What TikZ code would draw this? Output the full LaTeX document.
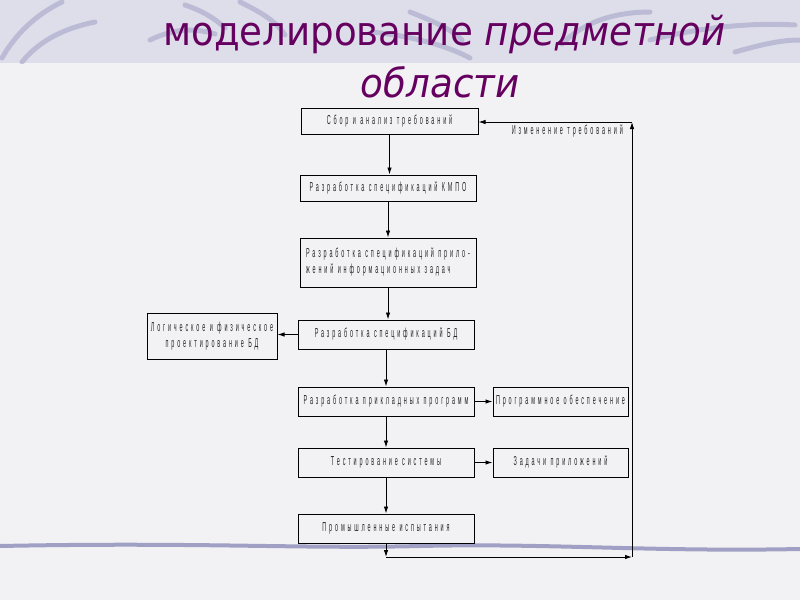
\documentclass[tikz,border=0pt]{standalone}
\usepackage{fontspec}
\setmainfont{DejaVu Sans}
\newfontfamily\titlefont[FakeStretch=0.93]{DejaVu Sans}
\newfontfamily\boxfont[FakeStretch=0.42,LetterSpace=22]{Liberation Sans}
\usetikzlibrary{shapes}
\usetikzlibrary{positioning}
\usetikzlibrary{arrows.meta}
\definecolor{titlepurple}{RGB}{102,0,96}
\definecolor{bandlilac}{RGB}{222,222,234}
\definecolor{paper}{RGB}{242,242,244}
\definecolor{swoosh}{RGB}{160,160,196}
\tikzset{
    mybox/.style = {rectangle, draw=black, line width=1pt, inner sep=0pt, minimum width=176pt, minimum height=29pt, align=center, font=\boxfont\fontsize{13}{16}\selectfont, text=black!85},
    myboxs/.style = {mybox, minimum width=135pt},
    edgen/.style = {-{Latex[length=7pt,width=4.5pt]}, line width=0.9pt},
    swooshline/.style = {swoosh, line width=5pt, line cap=round, opacity=0.55}, % decoration
    mytitle/.style = {text=titlepurple, font=\titlefont\fontsize{40}{48}\selectfont, inner sep=0pt}
}

\begin{document}
\begin{tikzpicture}[x=1pt, y=-1pt]
  \useasboundingbox (0,0) rectangle (800,600);

  % background of the slide
  \fill[paper] (0,0) rectangle (800,600);
  \fill[bandlilac] (0,0) rectangle (800,63);
  \begin{scope}
    \clip (0,0) rectangle (800,63);
    \draw[swooshline] (2,58) .. controls (15,35) and (35,15) .. (62,2);
    \draw[swooshline] (22,62) .. controls (40,40) and (65,28) .. (95,22);
    \draw[swooshline] (150,40) .. controls (175,28) and (195,28) .. (215,34);
    \draw[swooshline] (185,5) .. controls (200,10) and (215,18) .. (225,28);
    \draw[swooshline] (240,2) .. controls (260,12) and (275,20) .. (285,35);
    \draw[swooshline] (372,32) .. controls (400,35) and (440,42) .. (470,58);
    \draw[swooshline] (410,12) .. controls (430,20) and (450,28) .. (462,40);
    \draw[swooshline] (562,44) .. controls (580,25) and (610,12) .. (650,12);
    \draw[swooshline] (650,40) .. controls (690,30) and (740,22) .. (795,25);
    \draw[swooshline] (735,52) .. controls (760,45) and (780,40) .. (800,40);
  \end{scope}
  \draw[swoosh, line width=4pt] (0,546) .. controls (200,542) and (300,549) .. (420,546) .. controls (550,543) and (650,552) .. (800,549);

  % title
  \node[mytitle, anchor=base west] (title1) at (163,45) {моделирование \textit{предметной}};
  \node[mytitle, anchor=base] (title2) at (440,97) {\textit{области}};

  % main column
  \node[mybox, minimum width=177pt, minimum height=26pt] (m1) at (389.5,121) {Сбор и анализ требований};
  \node[mybox, minimum height=26pt] (m2) at (388,188) {Разработка спецификаций КМПО};
  \node[mybox, minimum height=49pt, align=left] (m3) at (388,262.5) {Разработка спецификаций прило-\\жений информационных задач};
  \node[mybox] (m4) at (386,334.5) {Разработка спецификаций БД};
  \node[mybox] (m5) at (386,401.5) {Разработка прикладных программ};
  \node[mybox] (m6) at (386,462.5) {Тестирование системы};
  \node[mybox] (m7) at (386,528.5) {Промышленные испытания};

  % side boxes
  \node[mybox, minimum width=130pt, minimum height=46pt] (logic) at (212,336) {Логическое и физическое\\проектирование БД};
  \node[myboxs] (soft) at (560.5,401.5) {Программное обеспечение};
  \node[myboxs] (tasks) at (560.5,462.5) {Задачи приложений};

  % flow
  \draw[edgen] (m1.south) -- (m1.south |- m2.north);
  \draw[edgen] (m2.south) -- (m2.south |- m3.north);
  \draw[edgen] (m3.south) -- (m3.south |- m4.north);
  \draw[edgen] (m4.south) -- (m4.south |- m5.north);
  \draw[edgen] (m5.south) -- (m6.north);
  \draw[edgen] (m6.south) -- (m7.north);
  \draw[edgen] (m4.west) -- (logic.east |- m4.west);
  \draw[edgen] (m5.east) -- (soft.west);
  \draw[edgen] (m6.east) -- (tasks.west);

  % feedback loop
  \coordinate (fb1) at (386,557);
  \coordinate (fb2) at (632,557);
  \coordinate (fb3) at (632,122);
  \draw[edgen] (m7.south) -- (fb1);
  \draw[edgen] (fb1) -- (fb2);
  \draw[edgen] (fb2) -- (fb3);
  \draw[edgen] (fb3) -- (fb3 -| m1.east);
  \node[font=\boxfont\fontsize{13}{16}\selectfont, text=black!85, anchor=east, inner sep=0pt] (change) at (623,131) {Изменение требований};
\end{tikzpicture}
\end{document}
